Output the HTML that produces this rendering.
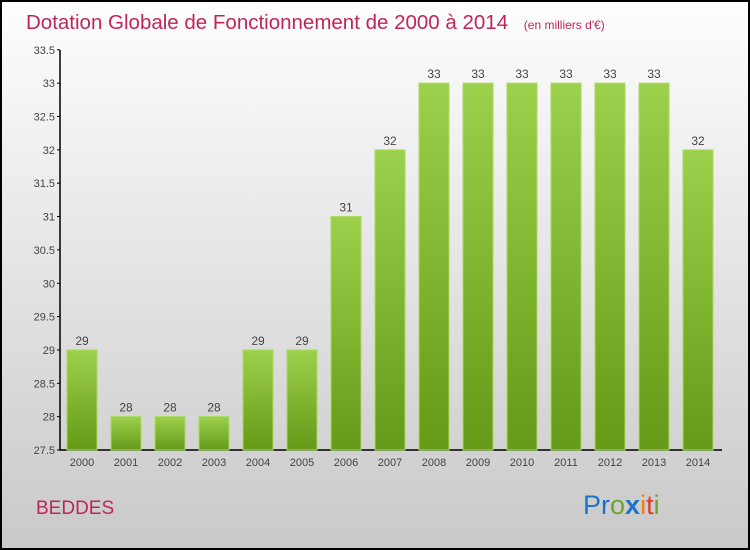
<!DOCTYPE html>
<html><head><meta charset="utf-8"><style>
body{margin:0}
svg{display:block;font-family:"Liberation Sans",sans-serif}
</style></head><body>
<svg width="750" height="550" xmlns="http://www.w3.org/2000/svg">
<defs>
<linearGradient id="bg" x1="0" y1="0" x2="0" y2="1"><stop offset="0" stop-color="#fefefe"/><stop offset="1" stop-color="#c9c9c9"/></linearGradient>
<linearGradient id="bar" x1="0" y1="0" x2="0" y2="1"><stop offset="0" stop-color="#9dd04c"/><stop offset="1" stop-color="#649a18"/></linearGradient>
</defs>
<rect x="1" y="1" width="748" height="548" fill="url(#bg)" stroke="#000" stroke-width="2"/>
<text x="26" y="29" font-size="20.5" fill="#c0255a">Dotation Globale de Fonctionnement de 2000 à 2014 <tspan font-size="12" dx="10">(en milliers d'€)</tspan></text>
<g id="plot"></g>
<text x="36" y="514" font-size="19" fill="#c0255a">BEDDES</text>
<text x="583" y="514" font-size="27"><tspan fill="#1b74c8">Pr</tspan><tspan fill="#6ca52a">o</tspan><tspan fill="#1b74c8" font-weight="bold">x</tspan><tspan fill="#f07d16">i</tspan><tspan fill="#e03a2b">t</tspan><tspan fill="#6ca52a">i</tspan></text>
</svg>
<script>
const categories=["2000","2001","2002","2003","2004","2005","2006","2007","2008","2009","2010","2011","2012","2013","2014"];
const values=[29,28,28,28,29,29,31,32,33,33,33,33,33,33,32];
const ticks=[27.5,28,28.5,29,29.5,30,30.5,31,31.5,32,32.5,33,33.5];
const ns="http://www.w3.org/2000/svg";
const g=document.getElementById("plot");
const y=v=>450-(v-27.5)*66.7;
const x=i=>82+i*44;
function mk(t,a,txt){const e=document.createElementNS(ns,t);for(const k in a)e.setAttribute(k,a[k]);if(txt!==undefined)e.textContent=txt;g.appendChild(e);return e;}
const ax=mk("path",{d:"M60,50V450H722",stroke:"#000","stroke-width":1.5,fill:"none"});


ticks.forEach(t=>{
 const l=mk("line",{x1:57,x2:60,y1:y(t),y2:y(t),stroke:"#000"});
 
 
 const tx=mk("text",{x:55,y:y(t)+4,"font-size":11,fill:"#444","text-anchor":"end"},String(t));
 
 
});
categories.forEach((c,i)=>{
 const r=mk("rect",{x:x(i)-15,y:y(values[i]),width:30,height:450-y(values[i]),fill:"url(#bar)",stroke:"#a8dc5c","stroke-width":1});
 
 
 const v=mk("text",{x:x(i),y:y(values[i])-5,"font-size":12,fill:"#444","text-anchor":"middle"},String(values[i]));
 
 
 const cl=mk("text",{x:x(i),y:466,"font-size":11,fill:"#444","text-anchor":"middle"},c);
 
 
});
</script>
</body></html>
